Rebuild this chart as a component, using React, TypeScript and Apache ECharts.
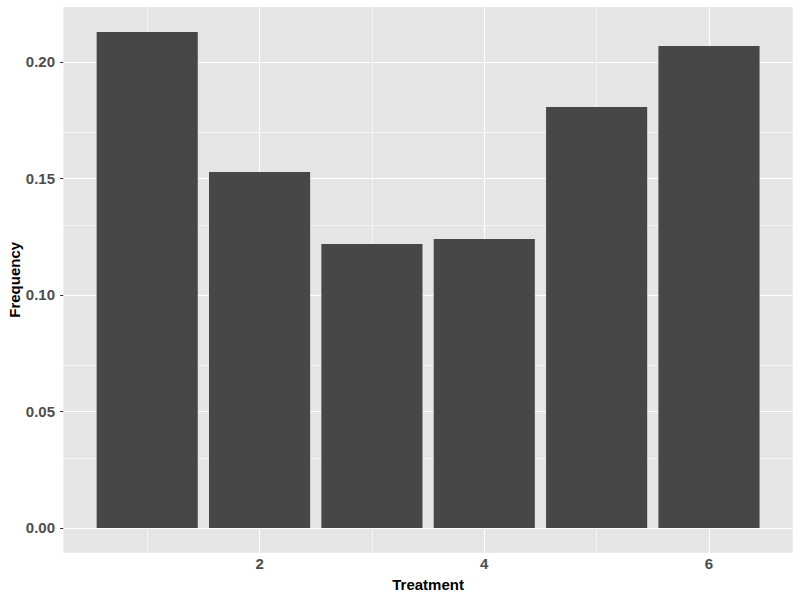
import React, { useEffect, useRef } from "react";
import * as echarts from "echarts";

const treatments = [1, 2, 3, 4, 5, 6];
const frequencies = [0.2129, 0.1528, 0.1219, 0.124, 0.1807, 0.2069];
const xTicks = [2, 4, 6];
const yTicks = [0, 0.05, 0.1, 0.15, 0.2];
const xMinorGrid = [1, 3, 5];
const yMinorGrid = [0.025, 0.075, 0.125, 0.175];
const barHalfWidth = 0.45;

export default function App() {
  const ref = useRef<HTMLDivElement>(null);
  useEffect(() => {
    if (!ref.current) return;
    const chart = echarts.init(ref.current, null, { renderer: "svg" });
    const font = "'Liberation Sans', Arial, Helvetica, sans-serif";
    const gridLines: any[] = [
      ...yMinorGrid.map((v) => ({ yAxis: v, lineStyle: { width: 0.55 } })),
      ...xMinorGrid.map((v) => ({ xAxis: v, lineStyle: { width: 0.55 } })),
      ...yTicks.map((v) => ({ yAxis: v, lineStyle: { width: 1.1 } })),
      ...xTicks.map((v) => ({ xAxis: v, lineStyle: { width: 1.1 } })),
    ];
    chart.setOption({
      animation: false,
      grid: {
        left: 63.5,
        top: 7,
        right: 7.3,
        bottom: 47.3,
        show: true,
        backgroundColor: "#e5e5e5",
        borderWidth: 0,
        containLabel: false,
        outerBoundsMode: "none",
      },
      xAxis: {
        type: "value",
        min: 0.255,
        max: 6.745,
        name: "Treatment",
        nameLocation: "middle",
        nameGap: 24,
        nameMoveOverlap: false,
        nameTextStyle: { fontFamily: font, fontSize: 15, fontWeight: "bold", color: "#000" },
        axisLine: { show: false },
        splitLine: { show: false },
        axisTick: { show: true, customValues: xTicks, length: 3.5, lineStyle: { color: "#333", width: 1 } },
        axisLabel: {
          customValues: xTicks,
          margin: 3.5,
          fontFamily: font,
          fontSize: 15,
          fontWeight: "bold",
          color: "#4d4d4d",
        },
      },
      yAxis: {
        type: "value",
        min: -0.01065,
        max: 0.2236,
        name: "Frequency",
        nameLocation: "middle",
        nameRotate: 90,
        nameGap: 42,
        nameMoveOverlap: false,
        nameTextStyle: { fontFamily: font, fontSize: 15, fontWeight: "bold", color: "#000" },
        axisLine: { show: false },
        splitLine: { show: false },
        axisTick: { show: true, customValues: yTicks, length: 3.5, lineStyle: { color: "#333", width: 1 } },
        axisLabel: {
          customValues: yTicks,
          margin: 8.5,
          fontFamily: font,
          fontSize: 15,
          fontWeight: "bold",
          color: "#4d4d4d",
          formatter: (v: number) => v.toFixed(2),
        },
      },
      series: [
        {
          type: "line",
          data: [],
          z: 1,
          silent: true,
          markLine: {
            silent: true,
            symbol: ["none", "none"],
            z: 1,
            label: { show: false },
            lineStyle: { color: "#ffffff", type: "solid" },
            data: gridLines,
          },
        },
        {
          type: "custom",
          z: 3,
          data: treatments.map((t, i) => [t, frequencies[i]]),
          encode: { x: 0, y: 1 },
          renderItem: (params: any, api: any) => {
            const x = api.value(0);
            const y = api.value(1);
            const p0 = api.coord([x - barHalfWidth, y]);
            const p1 = api.coord([x + barHalfWidth, 0]);
            return {
              type: "rect",
              shape: { x: p0[0], y: p0[1], width: p1[0] - p0[0], height: p1[1] - p0[1] },
              style: { fill: "#474747" },
            };
          },
        },
      ],
    });
    return () => chart.dispose();
  }, []);
  return <div ref={ref} style={{ width: 800, height: 600, position: "absolute", left: 0, top: 0 }} />;
}
